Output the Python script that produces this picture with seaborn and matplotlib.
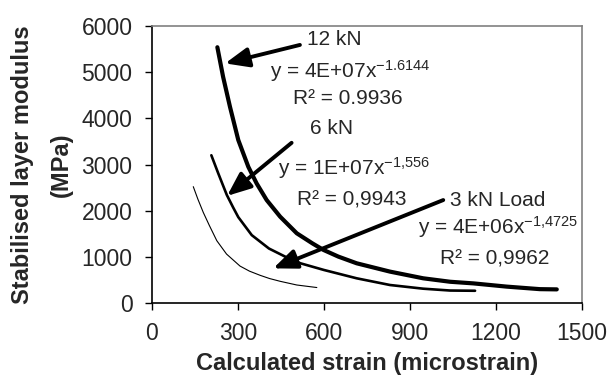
import numpy as np
import pandas as pd
import matplotlib
matplotlib.use("Agg")
import matplotlib.pyplot as plt
import seaborn as sns

# values (strain in microstrain, modulus in MPa)
strain_12kN = [228, 248, 272, 301, 336, 365, 400, 447, 505, 560, 598, 650, 714,
               830, 946, 1040, 1121, 1237, 1353, 1412]
modulus_12kN = [5540, 4900, 4250, 3530, 2950, 2590, 2230, 1870, 1510, 1290, 1150, 1005, 860,
                680, 535, 460, 425, 355, 300, 295]

strain_6kN = [207, 231, 245, 261, 283, 301, 348, 408, 466, 518, 600,
              714, 830, 946, 1040, 1127]
modulus_6kN = [3200, 2810, 2590, 2340, 2070, 1860, 1470, 1180, 1000, 860, 715,
               535, 390, 310, 270, 265]

strain_3kN = [144, 160, 179, 200, 226, 260, 307, 340, 377, 410, 447, 505, 575]
modulus_3kN = [2520, 2250, 1960, 1680, 1350, 1060, 800, 690, 600, 530, 470, 390, 335]

x_ticks = [0, 300, 600, 900, 1200, 1500]
y_ticks = [0, 1000, 2000, 3000, 4000, 5000, 6000]

df = pd.concat([
    pd.DataFrame({"strain": strain_12kN, "modulus": modulus_12kN, "load": "12 kN"}),
    pd.DataFrame({"strain": strain_6kN, "modulus": modulus_6kN, "load": "6 kN"}),
    pd.DataFrame({"strain": strain_3kN, "modulus": modulus_3kN, "load": "3 kN"}),
])

sns.set_style("white")
plt.rcParams["font.family"] = ["Liberation Sans", "DejaVu Sans"]
plt.rcParams["mathtext.fontset"] = "custom"
plt.rcParams["mathtext.rm"] = "Liberation Sans"
plt.rcParams["mathtext.it"] = "Liberation Sans"
plt.rcParams["mathtext.bf"] = "Liberation Sans:bold"

fig = plt.figure(figsize=(6.11, 3.85), dpi=100)
ax = fig.add_axes([152 / 611, 1 - 303 / 385, 430 / 611, 277 / 385])

widths = {"12 kN": 3.0, "6 kN": 1.9, "3 kN": 0.8}
for load, lw in widths.items():
    sns.lineplot(data=df[df.load == load], x="strain", y="modulus",
                 color="black", lw=lw, ax=ax, sort=False, legend=False)

ax.set_xlim(0, 1500)
ax.set_ylim(0, 6000)
ax.set_xticks(x_ticks)
ax.set_yticks(y_ticks)
ax.tick_params(labelsize=16.5, direction="out", length=5, width=1, color="black",
               left=True, bottom=True)
ax.tick_params(axis="x", pad=9)
ax.tick_params(axis="y", pad=9)

for s in ["left", "bottom"]:
    ax.spines[s].set_color("black")
    ax.spines[s].set_linewidth(1.2)
for s in ["top", "right"]:
    ax.spines[s].set_color("#808080")
    ax.spines[s].set_linewidth(1.2)

ax.set_xlabel("Calculated strain (microstrain)", fontsize=17, fontweight="bold", labelpad=5)
ax.set_ylabel("Stabilised layer modulus\n(MPa)", fontsize=17, fontweight="bold",
              labelpad=6, linespacing=1.9)

arrow = dict(arrowstyle="-|>,head_length=0.65,head_width=0.27", color="black", lw=2.8,
             mutation_scale=22, shrinkA=0, shrinkB=0)
ax.annotate("", xy=(255, 5190), xytext=(516, 5590), arrowprops=arrow)
ax.annotate("", xy=(262, 2320), xytext=(487, 3470), arrowprops=arrow)
ax.annotate("", xy=(423, 750), xytext=(1016, 2230), arrowprops=arrow)

fs = 15
ax.text(540, 5700, "12 kN", fontsize=fs, va="center")
ax.text(412, 5025, "y = 4E+07x$^{-1.6144}$", fontsize=fs, va="center")
ax.text(491, 4420, "R² = 0.9936", fontsize=fs, va="center")
ax.text(551, 3790, "6 kN", fontsize=fs, va="center")
ax.text(440, 2925, "y = 1E+07x$^{-1{,}556}$", fontsize=fs, va="center")
ax.text(505, 2230, "R² = 0,9943", fontsize=fs, va="center")
ax.text(1040, 2230, "3 kN Load", fontsize=fs, va="center")
ax.text(928, 1655, "y = 4E+06x$^{-1{,}4725}$", fontsize=fs, va="center")
ax.text(1005, 955, "R² = 0,9962", fontsize=fs, va="center")

fig.savefig("out.png", dpi=100)
